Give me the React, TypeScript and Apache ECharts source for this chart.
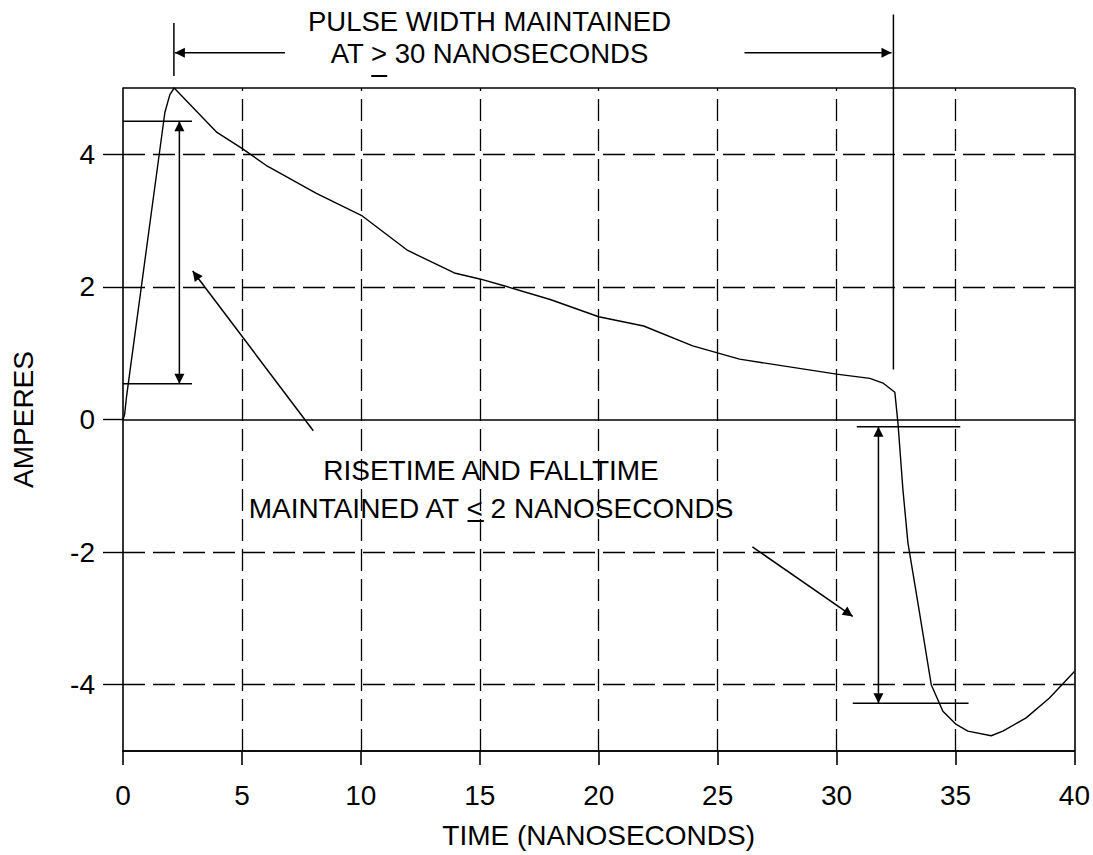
import React, { useEffect, useRef } from "react";
import * as echarts from "echarts";

// ---- data ----
const TIME_NS = [
  0, 0.07, 0.15, 1.76, 1.97, 2.15, 3.95, 5.0, 6.07, 8.13, 10.06, 11.97, 13.93, 15.0,
  16.09, 17.96, 20.0, 21.89, 23.95, 25.92, 30.0, 31.4, 31.95, 32.45, 32.58, 32.79,
  33.0, 33.49, 33.98, 34.47, 35.03, 35.52, 36.5, 36.99, 37.97, 38.95, 40.0,
];
const AMPS = [
  0, 0.08, 0.35, 4.63, 4.9, 5.0, 4.33, 4.09, 3.82, 3.41, 3.07, 2.55, 2.21, 2.12,
  2.01, 1.81, 1.55, 1.41, 1.11, 0.91, 0.685, 0.62, 0.55, 0.41, -0.05, -1.06,
  -1.86, -2.92, -4.0, -4.4, -4.6, -4.7, -4.77, -4.7, -4.5, -4.2, -3.8,
];
const Y_LABEL_VALUES = [-4, -2, 0, 2, 4];
const V_DASHED = [5, 10, 15, 20, 25, 30, 35];
const H_DASHED = [-4, -2, 2, 4];
const H_SOLID = [-5, 0, 5];
const V_SOLID = [40];

const X_NAME = "TIME (NANOSECONDS)";
const Y_NAME = "AMPERES";
const TOP_NOTE = ["PULSE WIDTH MAINTAINED", "AT > 30 NANOSECONDS"];
const MID_NOTE = ["RISETIME AND FALLTIME", "MAINTAINED AT < 2 NANOSECONDS"];

// annotation segments in data coordinates [ns, A]
type Seg = { from: number[]; to: number[]; headFrom?: boolean; headTo?: boolean };
const ANNOTATIONS: Seg[] = [
  { from: [0, 4.5], to: [2.9, 4.5] },
  { from: [0, 0.54], to: [2.9, 0.54] },
  { from: [2.37, 4.5], to: [2.37, 0.54], headFrom: true, headTo: true },
  { from: [8.0, -0.17], to: [2.93, 2.24], headTo: true },
  { from: [30.85, -0.11], to: [35.2, -0.11] },
  { from: [30.68, -4.28], to: [35.55, -4.28] },
  { from: [31.76, -0.11], to: [31.76, -4.28], headFrom: true, headTo: true },
  { from: [26.46, -1.92], to: [30.68, -2.97], headTo: true },
  { from: [2.14, 5.98], to: [2.14, 5.18] },
  { from: [6.81, 5.53], to: [2.18, 5.53], headTo: true },
  { from: [32.39, 6.11], to: [32.39, 0.754] },
  { from: [26.13, 5.53], to: [32.31, 5.53], headTo: true },
];

const FONT = '"Liberation Sans", Arial, sans-serif';
const FS = 28;

export default function App() {
  const ref = useRef<HTMLDivElement>(null);
  useEffect(() => {
    if (!ref.current) return;
    const chart = echarts.init(ref.current, null, { renderer: "svg" });
    const dashed = { color: "#000", width: 1.3, type: [22, 8] as any };
    const solid = { color: "#000", width: 1.6, type: "solid" as any };
    const option: any = {
      animation: false,
      backgroundColor: "#fff",
      grid: { left: 123, right: 18, top: 88, bottom: 104, containLabel: false },
      xAxis: {
        type: "value",
        min: 0,
        max: 40,
        interval: 5,
        name: X_NAME,
        nameLocation: "middle",
        nameGap: 70,
        nameTextStyle: { color: "#000", fontSize: FS, fontFamily: FONT },
        axisLine: { show: true, onZero: false, lineStyle: { color: "#000", width: 1.6 } },
        axisTick: { show: true, length: 14, lineStyle: { color: "#000", width: 1.6 } },
        axisLabel: { color: "#000", fontSize: FS, fontFamily: FONT, margin: 30 },
        splitLine: { show: false },
      },
      yAxis: {
        type: "value",
        min: -5,
        max: 5,
        interval: 1,
        name: Y_NAME,
        nameLocation: "middle",
        nameRotate: 90,
        nameGap: 86,
        nameTextStyle: { color: "#000", fontSize: FS, fontFamily: FONT },
        axisLine: { show: true, onZero: false, lineStyle: { color: "#000", width: 1.6 } },
        axisTick: {
          show: true,
          length: 20,
          customValues: Y_LABEL_VALUES,
          lineStyle: { color: "#000", width: 1.4 },
        },
        axisLabel: {
          color: "#000",
          fontSize: FS,
          fontFamily: FONT,
          margin: 28,
          customValues: Y_LABEL_VALUES,
          formatter: (v: number) => (Y_LABEL_VALUES.indexOf(v) >= 0 ? String(v) : ""),
        },
        splitLine: { show: false },
      },
      series: [
        {
          type: "line",
          data: TIME_NS.map((t, i) => [t, AMPS[i]]),
          showSymbol: false,
          symbol: "none",
          clip: false,
          lineStyle: { color: "#000", width: 1.4 },
          z: 5,
          markLine: {
            silent: true,
            symbol: "none",
            label: { show: false },
            emphasis: { disabled: true },
            data: [
              ...H_DASHED.map((v) => ({ yAxis: v, lineStyle: dashed })),
              ...H_SOLID.map((v) => ({ yAxis: v, lineStyle: solid })),
              ...V_DASHED.map((v) => ({ xAxis: v, lineStyle: dashed })),
              ...V_SOLID.map((v) => ({ xAxis: v, lineStyle: solid })),
            ],
          },
        },
      ],
    };
    chart.setOption(option);

    const toPx = (p: number[]) => chart.convertToPixel({ gridIndex: 0 }, p) as number[];
    const graphics: any[] = [];
    const head = (tip: number[], tail: number[]) => {
      const dx = tip[0] - tail[0];
      const dy = tip[1] - tail[1];
      const len = Math.hypot(dx, dy) || 1;
      const ux = dx / len, uy = dy / len;
      const L = 10, W = 5;
      const bx = tip[0] - ux * L, by = tip[1] - uy * L;
      graphics.push({
        type: "polygon",
        shape: { points: [tip, [bx - uy * W, by + ux * W], [bx + uy * W, by - ux * W]] },
        style: { fill: "#000" },
        z: 10,
      });
    };
    ANNOTATIONS.forEach((s) => {
      const a = toPx(s.from);
      const b = toPx(s.to);
      graphics.push({
        type: "line",
        shape: { x1: a[0], y1: a[1], x2: b[0], y2: b[1] },
        style: { stroke: "#000", lineWidth: 1.5 },
        z: 10,
      });
      if (s.headTo) head(b, a);
      if (s.headFrom) head(a, b);
    });

    const ctx = document.createElement("canvas").getContext("2d")!;
    const mw = (s: string, fs: number) => {
      ctx.font = `${fs}px ${FONT}`;
      return ctx.measureText(s).width;
    };

    const addText = (text: string, cx: number, cy: number, fs: number) => {
      graphics.push({
        type: "text",
        x: cx,
        y: cy,
        z: 10,
        style: {
          text,
          fill: "#000",
          fontSize: fs,
          fontFamily: FONT,
          align: "center",
          verticalAlign: "middle",
        },
      });
    };
    const underline = (line: string, cx: number, prefix: string, ch: string, y: number, fs: number) => {
      const left = cx - mw(line, fs) / 2 + mw(prefix, fs);
      graphics.push({
        type: "line",
        shape: { x1: left, y1: y, x2: left + mw(ch, fs), y2: y },
        style: { stroke: "#000", lineWidth: 2 },
        z: 10,
      });
    };

    const topCx = 489.5;
    const topFs = 27.5;
    addText(TOP_NOTE[0], topCx, 21.7, topFs);
    addText(TOP_NOTE[1], topCx, 53.8, topFs);
    underline(TOP_NOTE[1], topCx, "AT ", ">", 76, topFs);

    const midCx = 491;
    addText(MID_NOTE[0], midCx, 470, FS);
    addText(MID_NOTE[1], midCx, 508.3, FS);
    underline(MID_NOTE[1], midCx, "MAINTAINED AT ", "<", 521, FS);

    chart.setOption({ graphic: graphics });
    return () => chart.dispose();
  }, []);
  return (
    <div
      ref={ref}
      style={{ position: "absolute", left: 0, top: 0, width: 1093, height: 855, background: "#fff" }}
    />
  );
}
